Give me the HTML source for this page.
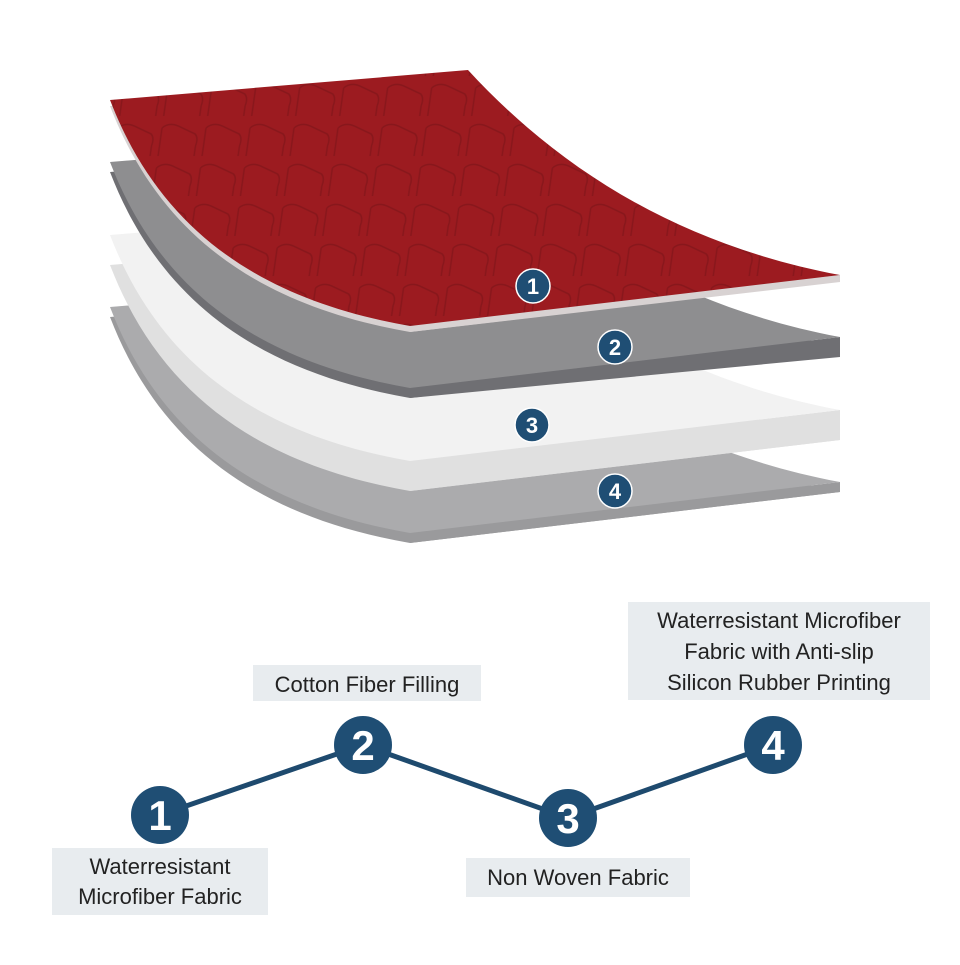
<!DOCTYPE html>
<html><head><meta charset="utf-8"><style>
body{margin:0;background:#fff;width:960px;height:960px;overflow:hidden}
.lbl{font-family:"Liberation Sans",sans-serif;font-size:22px;fill:#222}
.num{font-family:"Liberation Sans",sans-serif;font-weight:bold;fill:#fff;text-anchor:middle}
</style></head><body>
<svg width="960" height="960" viewBox="0 0 960 960" xmlns="http://www.w3.org/2000/svg">
<defs>
<path id="sheet" d="M110,100 L468,70 C560,170 680,245 840,275 L410,326 C260,300 160,230 110,100 Z"/>
<pattern id="q" width="44" height="40" patternUnits="userSpaceOnUse" patternTransform="skewX(-8)">
<rect width="44" height="40" fill="#9c1b20"/>
<path d="M4,8 Q10,2 20,6 L38,14 Q42,18 40,26 L40,36 M4,8 L4,36" stroke="#80151a" stroke-width="1.5" fill="none" opacity="0.7"/>
</pattern>
</defs>
<!-- layer 4 -->
<use href="#sheet" transform="translate(0,217)" fill="#9a9a9c"/>
<polygon points="840,482 840,492 410,543 410,533" fill="#9a9a9c"/>
<use href="#sheet" transform="translate(0,207)" fill="#ababad"/>
<!-- layer 3 -->
<use href="#sheet" transform="translate(0,165)" fill="#e0e0e0"/>
<polygon points="840,410 840,440 410,491 410,461" fill="#e0e0e0"/>
<use href="#sheet" transform="translate(0,135)" fill="#f2f2f2"/>
<!-- layer 2 -->
<use href="#sheet" transform="translate(0,72)" fill="#6f6f73"/>
<polygon points="840,337 840,357 410,398 410,388" fill="#6f6f73"/>
<use href="#sheet" transform="translate(0,62)" fill="#8e8e90"/>
<!-- layer 1 -->
<use href="#sheet" transform="translate(0,6)" fill="#d8d2d2"/>
<polygon points="840,275 840,282 410,332 410,326" fill="#d8d2d2"/>
<use href="#sheet" fill="url(#q)"/>
<!-- layer badges -->
<g stroke="#fff" stroke-width="1.5" fill="#1f4e74">
<circle cx="533" cy="286" r="17"/><circle cx="615" cy="347" r="17"/><circle cx="532" cy="425" r="17"/><circle cx="615" cy="491" r="17"/>
</g>
<g class="num" font-size="22">
<text x="533" y="294">1</text><text x="615" y="355">2</text><text x="532" y="433">3</text><text x="615" y="499">4</text>
</g>
<!-- bottom diagram -->
<polyline points="160,815 363,745 568,818 773,745" fill="none" stroke="#1e4a6e" stroke-width="5"/>
<g fill="#1f4e74">
<circle cx="160" cy="815" r="29"/><circle cx="363" cy="745" r="29"/><circle cx="568" cy="818" r="29"/><circle cx="773" cy="745" r="29"/>
</g>
<g class="num" font-size="42">
<text x="160" y="830">1</text><text x="363" y="760">2</text><text x="568" y="833">3</text><text x="773" y="760">4</text>
</g>
<g fill="#e8ecef">
<rect x="253" y="665" width="228" height="36"/>
<rect x="52" y="848" width="216" height="67"/>
<rect x="466" y="858" width="224" height="39"/>
<rect x="628" y="602" width="302" height="98"/>
</g>
<g class="lbl" text-anchor="middle">
<text x="367" y="692">Cotton Fiber Filling</text>
<text x="160" y="874">Waterresistant</text>
<text x="160" y="904">Microfiber Fabric</text>
<text x="578" y="885">Non Woven Fabric</text>
<text x="779" y="628">Waterresistant Microfiber</text>
<text x="779" y="659">Fabric with Anti-slip</text>
<text x="779" y="690">Silicon Rubber Printing</text>
</g>
</svg>
</body></html>
